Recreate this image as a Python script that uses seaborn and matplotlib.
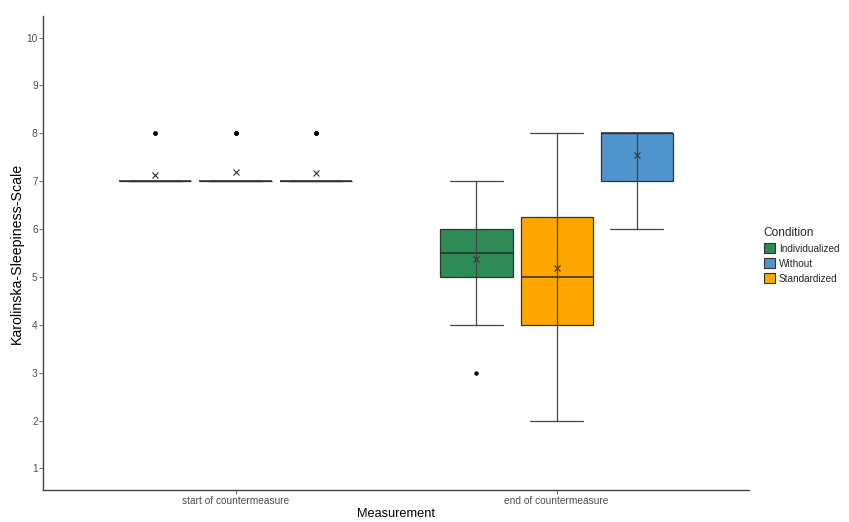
import pandas as pd
import seaborn as sns
import matplotlib.pyplot as plt
from matplotlib.patches import Patch

# KSS ratings per condition (quartiles, whiskers, outliers, means)
measurements = ['start of countermeasure', 'end of countermeasure']
conditions = ['Individualized', 'Standardized', 'Without']  # dodge order in the plot
legend_order = ['Individualized', 'Without', 'Standardized']
colors = {'Individualized': '#2E8B57', 'Without': '#4F94CD', 'Standardized': '#FFA500'}

start_individualized = [7] * 14 + [8] * 2
start_standardized = [7] * 13 + [8] * 3
start_without = [7] * 15 + [8] * 3
end_individualized = [3, 4, 4, 5, 5, 5, 5, 5, 6, 6, 6, 6, 6, 6, 7, 7]
end_standardized = [2, 3, 4, 4, 4, 4, 5, 5, 5, 5, 6, 6, 7, 7, 8, 8]
end_without = [6, 6, 7, 7, 7, 7] + [8] * 12

y_ticks = list(range(1, 11))

groups = {
    ('start of countermeasure', 'Individualized'): start_individualized,
    ('start of countermeasure', 'Standardized'): start_standardized,
    ('start of countermeasure', 'Without'): start_without,
    ('end of countermeasure', 'Individualized'): end_individualized,
    ('end of countermeasure', 'Standardized'): end_standardized,
    ('end of countermeasure', 'Without'): end_without,
}
df = pd.concat([pd.DataFrame({'Measurement': m, 'Condition': c, 'KSS': v})
                for (m, c), v in groups.items()], ignore_index=True)

sns.set_style('ticks')
plt.rcParams['font.family'] = ['Liberation Sans', 'DejaVu Sans']

fig = plt.figure(figsize=(8.49, 5.22), dpi=100)
ax = fig.add_axes([0.0506, 0.0613, 0.832, 0.908])

edge = '#333333'
sns.boxplot(data=df, x='Measurement', y='KSS', hue='Condition',
            order=measurements, hue_order=conditions, palette=colors,
            saturation=1, width=0.75, gap=0.1, whis=1.5, linecolor=edge, linewidth=0.9,
            capwidths=0.165, showmeans=True,
            meanprops=dict(marker='x', markeredgecolor='#333333', markersize=5, markeredgewidth=0.8),
            flierprops=dict(marker='o', markerfacecolor='black', markeredgecolor='black', markersize=2.2),
            whiskerprops=dict(color='#444444', linewidth=0.9),
            capprops=dict(color='#444444', linewidth=0.9),
            medianprops=dict(color='#2b2b2b', linewidth=1.1),
            legend=False, ax=ax)

# ggplot's errorbar runs straight through the box: redraw the Q1-Q3 part on top
for p in ax.patches:
    ext = p.get_path().get_extents(p.get_transform() + ax.transData.inverted())
    if ext.height > 0:
        ax.vlines((ext.x0 + ext.x1) / 2, ext.y0, ext.y1, color='#444444', linewidth=0.9, zorder=3)

ax.set_xlim(-0.6, 1.6)
ax.set_ylim(0.55, 10.45)
ax.set_yticks(y_ticks)
ax.tick_params(axis='both', colors='#555555', labelsize=7.3, length=3, width=0.6,
               labelcolor='#4d4d4d', pad=2)
ax.tick_params(axis='x', pad=1)
ax.tick_params(axis='y', pad=0.8)
ax.set_xlabel('Measurement', fontsize=9.2, color='black', labelpad=2)
ax.set_ylabel('Karolinska-Sleepiness-Scale', fontsize=10.2, color='black', labelpad=1.5)
for s in ['left', 'bottom']:
    ax.spines[s].set_color('#444444')
    ax.spines[s].set_linewidth(1.0)
sns.despine(ax=ax)

handles = [Patch(facecolor=colors[c], edgecolor=edge, linewidth=0.8) for c in legend_order]
fig.legend(handles, legend_order, title='Condition', loc='upper left',
           bbox_to_anchor=(0.889, 0.583), frameon=False, fontsize=7.2,
           title_fontsize=8.6, handlelength=1.1, handleheight=1.2,
           handletextpad=0.4, labelspacing=0.45, alignment='left')

fig.savefig('out.png', dpi=100)
